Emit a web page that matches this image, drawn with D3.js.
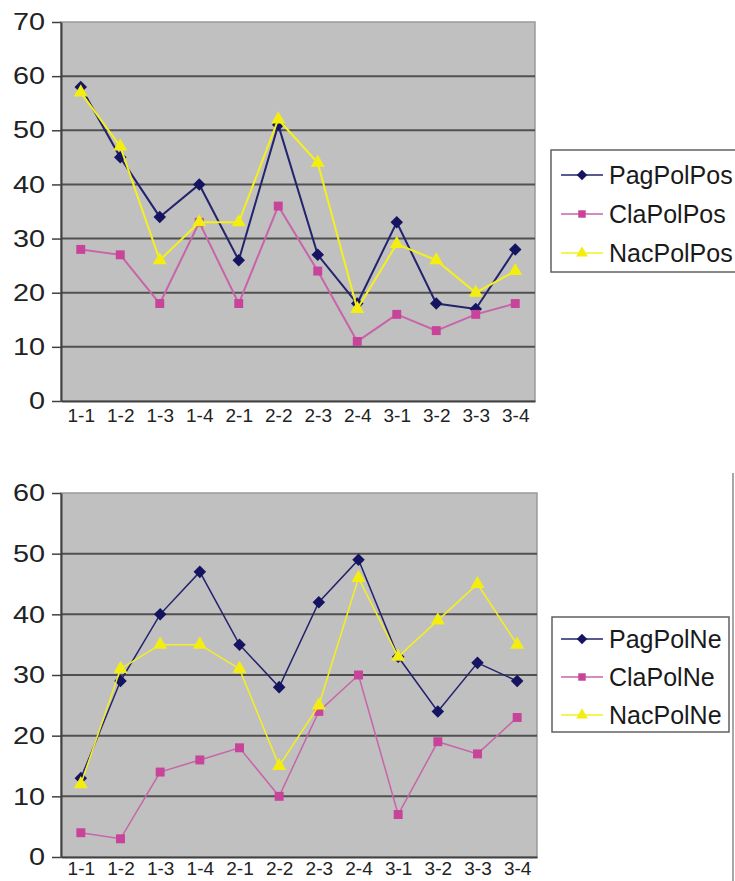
<!DOCTYPE html>
<html>
<head>
<meta charset="utf-8">
<script src="https://cdn.jsdelivr.net/npm/d3@7"></script>
<style>
  body { margin: 0; background: #fff; }
  svg { display: block; font-family: Arial, "Liberation Sans", sans-serif; }
</style>
</head>
<body>
<div id="wrapper"></div>
<script>
const categories = ["1-1", "1-2", "1-3", "1-4", "2-1", "2-2", "2-3", "2-4", "3-1", "3-2", "3-3", "3-4"];

// top chart (Pos)
const pagPolPos = [58, 45, 34, 40, 26, 51, 27, 18, 33, 18, 17, 28];
const claPolPos = [28, 27, 18, 33, 18, 36, 24, 11, 16, 13, 16, 18];
const nacPolPos = [57, 47, 26, 33, 33, 52, 44, 17, 29, 26, 20, 24];
const topTicks = [0, 10, 20, 30, 40, 50, 60, 70];

// bottom chart (Ne)
const pagPolNe = [13, 29, 40, 47, 35, 28, 42, 49, 33, 24, 32, 29];
const claPolNe = [4, 3, 14, 16, 18, 10, 24, 30, 7, 19, 17, 23];
const nacPolNe = [12, 31, 35, 35, 31, 15, 25, 46, 33, 39, 45, 35];
const bottomTicks = [0, 10, 20, 30, 40, 50, 60];

const styles = {
    pag: { line: "#23236e", marker: "#141460", symbol: d3.symbolDiamond2, size: 100 },
    cla: { line: "#c864a8", marker: "#c8449a", symbol: d3.symbolSquare, size: 80 },
    nac: { line: "#f4f01e", marker: "#f4ee10", symbol: d3.symbolTriangle, size: 85 }
};

const svg = d3.select("#wrapper")
    .append("svg")
    .attr("width", 735)
    .attr("height", 881);

function drawChart(opts) {
    const g = svg.append("g");

    const xScale = d3.scalePoint()
        .domain(categories)
        .range([opts.left, opts.right])
        .padding(0.5);

    const yScale = d3.scaleLinear()
        .domain([0, opts.max])
        .range([opts.bottom, opts.top]);

    // plot background
    g.append("rect")
        .attr("x", opts.left)
        .attr("y", opts.top)
        .attr("width", opts.right - opts.left)
        .attr("height", opts.bottom - opts.top)
        .attr("fill", "#c0c0c0")
        .attr("stroke", "#9a9a9a")
        .attr("stroke-width", 1.5);

    // gridlines
    g.selectAll(".grid")
        .data(opts.ticks.filter(t => t > 0 && t < opts.max))
        .enter().append("line")
        .attr("x1", opts.left)
        .attr("x2", opts.right)
        .attr("y1", d => yScale(d))
        .attr("y2", d => yScale(d))
        .attr("stroke", "#505050")
        .attr("stroke-width", 2);

    // y axis (labels a bit stretched sideways, like the original)
    const yAxis = g.append("g")
        .attr("transform", `translate(${opts.left},0)`)
        .call(d3.axisLeft(yScale).tickValues(opts.ticks).tickSize(9).tickSizeOuter(0));
    yAxis.select(".domain").attr("stroke", "#404040").attr("stroke-width", 2);
    yAxis.selectAll(".tick line").attr("stroke", "#404040").attr("stroke-width", 1.5);
    yAxis.selectAll("text")
        .attr("x", -16 / 1.2)
        .attr("transform", "scale(1.2,1)")
        .attr("font-size", 24)
        .attr("fill", "#222")
        .attr("font-family", "Arial, 'Liberation Sans', sans-serif");

    // x axis
    const xAxis = g.append("g")
        .attr("transform", `translate(0,${opts.bottom})`)
        .call(d3.axisBottom(xScale).tickSize(0).tickPadding(opts.xPad));
    xAxis.select(".domain").attr("stroke", "#404040").attr("stroke-width", 2);
    xAxis.selectAll("text")
        .attr("font-size", 19)
        .attr("fill", "#222")
        .attr("font-family", "Arial, 'Liberation Sans', sans-serif");

    const line = d3.line()
        .x((d, i) => xScale(categories[i]))
        .y(d => yScale(d));

    opts.series.forEach(s => {
        const st = styles[s.key];
        g.append("path")
            .datum(s.values)
            .attr("fill", "none")
            .attr("stroke", st.line)
            .attr("stroke-width", opts.lineWidth)
            .attr("d", line);
        g.selectAll(".m-" + s.key)
            .data(s.values)
            .enter().append("path")
            .attr("class", "m-" + s.key)
            .attr("transform", (d, i) => `translate(${xScale(categories[i])},${yScale(d)})`)
            .attr("d", d3.symbol().type(st.symbol).size(st.size))
            .attr("fill", st.marker);
    });

    // legend
    const lg = g.append("g");
    lg.append("rect")
        .attr("x", opts.legend.x)
        .attr("y", opts.legend.y)
        .attr("width", opts.legend.w)
        .attr("height", opts.legend.h)
        .attr("fill", "#fff")
        .attr("stroke", "#606060")
        .attr("stroke-width", 1.5);
    opts.series.forEach((s, i) => {
        const st = styles[s.key];
        const y = opts.legend.y + opts.legend.first + i * opts.legend.step;
        lg.append("line")
            .attr("x1", 561).attr("x2", 603)
            .attr("y1", y).attr("y2", y)
            .attr("stroke", st.line)
            .attr("stroke-width", 1.5);
        lg.append("path")
            .attr("transform", `translate(582,${y})`)
            .attr("d", d3.symbol().type(st.symbol).size(st.size * 0.7))
            .attr("fill", st.marker);
        lg.append("text")
            .attr("x", 609)
            .attr("y", y)
            .attr("dy", "0.36em")
            .attr("font-size", 25)
            .attr("fill", "#1a1a1a")
            .text(s.name);
    });
}

drawChart({
    left: 61, right: 535, top: 22, bottom: 401, max: 70, ticks: topTicks,
    lineWidth: 2, xPad: 8,
    series: [
        { key: "pag", name: "PagPolPos", values: pagPolPos },
        { key: "cla", name: "ClaPolPos", values: claPolPos },
        { key: "nac", name: "NacPolPos", values: nacPolPos }
    ],
    legend: { x: 551, y: 150, w: 200, h: 122, first: 25, step: 39 }
});

drawChart({
    left: 61, right: 537, top: 493, bottom: 857, max: 60, ticks: bottomTicks,
    lineWidth: 1.5, xPad: 5,
    series: [
        { key: "pag", name: "PagPolNe", values: pagPolNe },
        { key: "cla", name: "ClaPolNe", values: claPolNe },
        { key: "nac", name: "NacPolNe", values: nacPolNe }
    ],
    legend: { x: 552, y: 617, w: 177, h: 115, first: 22, step: 38 }
});

// right border of the lower frame
svg.append("line")
    .attr("x1", 733).attr("x2", 733)
    .attr("y1", 473).attr("y2", 881)
    .attr("stroke", "#8a8a8a")
    .attr("stroke-width", 1.5);
</script>
</body>
</html>
